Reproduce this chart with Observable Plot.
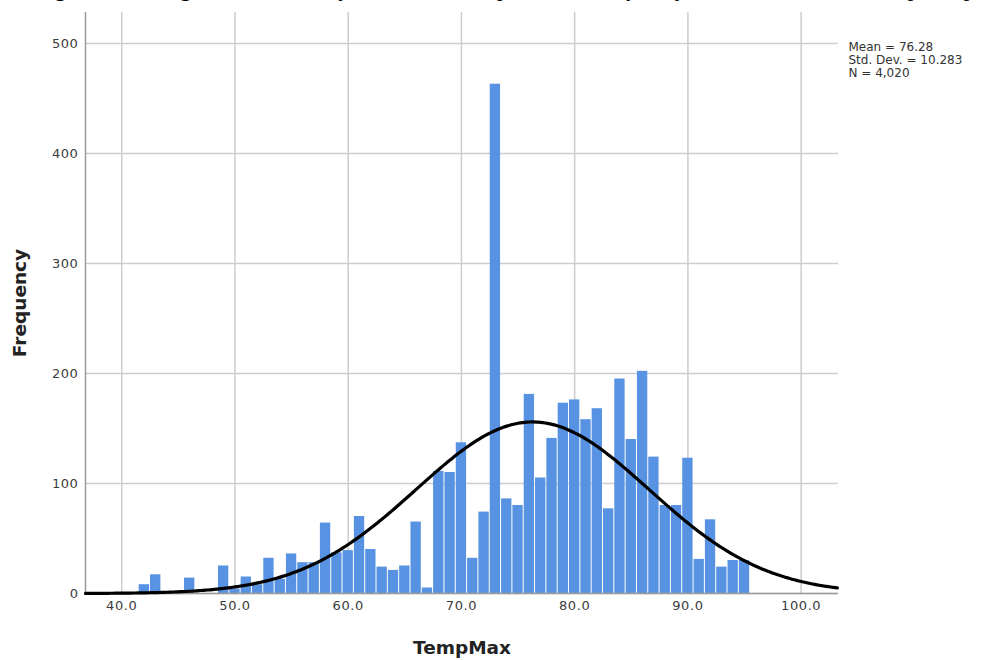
<!DOCTYPE html>
<html><head><meta charset="utf-8">
<script src="https://cdn.jsdelivr.net/npm/d3@7"></script>
<script src="https://cdn.jsdelivr.net/npm/@observablehq/plot@0.6"></script>
<style>
body{margin:0;background:#fff;width:982px;height:660px;overflow:hidden;position:relative}
#chart{position:absolute;left:0;top:0}
#title{position:absolute;left:35px;top:-27px;font:italic 24px "Liberation Serif";white-space:nowrap;color:#000;line-height:30px;z-index:2}
svg g[aria-label="x-axis tick label"] text, svg g[aria-label="y-axis tick label"] text, svg g[aria-label="stats"] text{letter-spacing:0.6px}
</style></head><body>
<div id="chart"></div>
<div id="title">Figure 1. Histogram in the Daily Maximum Temperature Frequency with Normal Curve Superimposed</div>
<script>
// Histogram bins (TempMax, bin width 1, centred on integers) and frequencies
const binCenters = [42,43,46,49,50,51,52,53,54,55,56,57,58,59,60,61,62,63,64,65,66,67,68,69,70,71,72,73,74,75,76,77,78,79,80,81,82,83,84,85,86,87,88,89,90,91,92,93,94,95];
const frequencies = [8,17,14,25,4,15,8,32,13,36,28,28,64,37,39,70,40,24,21,25,65,5,111,110,137,32,74,463,86,80,181,105,141,173,176,158,168,77,195,140,202,124,80,80,123,31,67,24,30,30];
const binWidth = [1];
// Reported statistics
const statMean = [76.28];
const statSD = [10.283];
const statN = [4020];
const statLines = ["Mean = 76.28", "Std. Dev. = 10.283", "N = 4,020"];
// Axes
const xTicks = [40,50,60,70,80,90,100];
const yTicks = [0,100,200,300,400,500];
const xDomain = [36.8, 103.3];
const yDomain = [0, 528.2];
const xTitle = ["TempMax"];
const yTitle = ["Frequency"];

const bars = binCenters.map((c, i) => ({c, f: frequencies[i]}));
const mu = statMean[0], sd = statSD[0], n = statN[0], w = binWidth[0];
const curve = d3.range(xDomain[0], xDomain[1] + 0.001, 0.2).map(x => ({
  x, y: n * w / (sd * Math.sqrt(2 * Math.PI)) * Math.exp(-0.5 * ((x - mu) / sd) ** 2)
}));

const chart = Plot.plot({
  width: 982, height: 660,
  marginLeft: 85, marginRight: 144, marginTop: 12, marginBottom: 67,
  style: {fontFamily: "DejaVu Sans", fontSize: "13px", color: "#3c3c3c", background: "#fff"},
  x: {domain: xDomain},
  y: {domain: yDomain},
  marks: [
    Plot.gridX({ticks: xTicks, stroke: "#cdcdcd", strokeOpacity: 1, strokeWidth: 1.5}),
    Plot.gridY({ticks: yTicks, stroke: "#cdcdcd", strokeOpacity: 1, strokeWidth: 1.5}),
    Plot.rectY(bars, {x1: d => d.c - w / 2, x2: d => d.c + w / 2, y: "f", fill: "#5793e2", insetLeft: 0.5, insetRight: 0.5}),
    Plot.ruleY([0], {stroke: "#9a9a9a", strokeWidth: 1.5}),
    Plot.ruleX([xDomain[0]], {stroke: "#9a9a9a", strokeWidth: 1.5}),
    Plot.line(curve, {x: "x", y: "y", stroke: "#000", strokeWidth: 3.2}),
    Plot.axisX({ticks: xTicks, tickFormat: d => d.toFixed(1), tickSize: 0, tickPadding: 7, label: null}),
    Plot.axisY({ticks: yTicks, tickSize: 0, tickPadding: 7, label: null}),
    Plot.text([statLines.join("\n")], {text: d => d, frameAnchor: "top-right", textAnchor: "start", lineAnchor: "top", dx: 10, dy: 30, fontSize: 12, lineHeight: 1.05, fill: "#333", ariaLabel: "stats"}),
    Plot.text(yTitle, {text: d => d, frameAnchor: "left", textAnchor: "middle", lineAnchor: "middle", rotate: -90, dx: -65, fontSize: 18.5, fontWeight: "bold", fill: "#222"}),
    Plot.text(xTitle, {text: d => d, frameAnchor: "bottom", textAnchor: "middle", lineAnchor: "middle", dy: 55, fontSize: 18.5, fontWeight: "bold", fill: "#222"})
  ]
});
document.getElementById("chart").appendChild(chart);
</script></body></html>
